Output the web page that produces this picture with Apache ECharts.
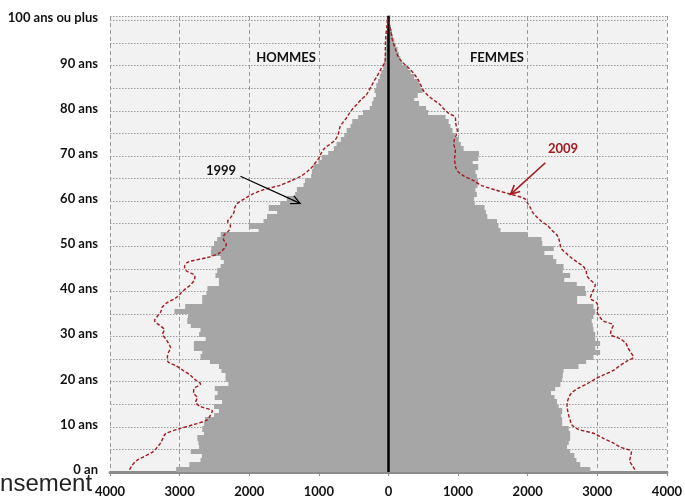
<!DOCTYPE html>
<html><head><meta charset="utf-8">
<script src="https://cdn.jsdelivr.net/npm/echarts@6/dist/echarts.min.js"></script>
<style>html,body{margin:0;padding:0;background:#fff}#c{width:685px;height:498px}</style>
</head><body><div id="c"></div>
<script>
// Ages 0..100 (100 = "100 ans ou plus")
const ages = Array.from({length: 101}, (_, i) => String(i));
const tickLabels = ['0 an','10 ans','20 ans','30 ans','40 ans','50 ans','60 ans','70 ans','80 ans','90 ans','100 ans ou plus'];
const xTicks = [-4000,-3000,-2000,-1000,0,1000,2000,3000,4000];

// 1999 (bars), age 0 first
const hommes1999 = [3050,2860,2700,2680,2840,2720,2730,2745,2650,2675,
 2650,2635,2505,2435,2505,2390,2495,2455,2495,2300,
 2340,2340,2400,2435,2565,2700,2675,2795,2795,2625,
 2720,2700,2840,2890,2880,3075,2920,2675,2675,2615,
 2600,2435,2435,2485,2460,2410,2365,2410,2550,2545,
 2505,2460,2410,1865,2005,1795,1745,1600,1720,1555,
 1460,1340,1315,1220,1200,1110,1100,1080,1005,960,
 865,785,745,685,635,600,545,520,435,365,
 270,235,215,180,200,175,150,125,105,75,
 65,55,45,40,35,30,25,20,15,12,15];
const femmes1999 = [2900,2755,2700,2670,2610,2565,2590,2610,2610,2590,
 2495,2495,2480,2495,2445,2420,2385,2335,2395,2470,
 2495,2505,2515,2730,2840,2945,3040,2970,3040,2970,
 2970,2945,2935,2920,2945,2970,2945,2710,2710,2840,
 2825,2705,2525,2610,2505,2515,2410,2365,2240,2375,
 2210,2200,2000,1610,1580,1560,1420,1400,1380,1240,
 1230,1270,1250,1280,1290,1270,1250,1290,1210,1290,
 1300,1080,1040,1010,955,920,890,865,820,570,
 540,440,370,420,490,460,430,370,320,280,
 200,170,150,130,105,85,65,50,35,20,25];
// 2009 (dashed lines)
const hommes2009 = [3720,3680,3620,3500,3380,3320,3270,3240,3200,3020,
 2800,2610,2560,2530,2700,2770,2745,2800,2790,2700,
 2780,2850,2950,3050,3170,3175,3160,3130,3160,3200,
 3245,3220,3290,3360,3320,3270,3250,3180,3060,2990,
 2920,2840,2790,2780,2900,2930,2880,2600,2430,2360,
 2330,2370,2360,2290,2270,2310,2260,2220,2210,2170,
 2070,1960,1800,1560,1400,1260,1170,1100,1050,1000,
 970,930,850,770,730,710,695,650,600,560,
 510,450,390,320,280,245,210,170,135,100,
 60,45,45,45,45,42,38,32,25,18,15];
const femmes2009 = [3540,3500,3465,3480,3490,3330,3220,3080,2960,2720,
 2630,2610,2590,2575,2565,2570,2590,2630,2720,2850,
 2960,3090,3230,3320,3420,3520,3480,3440,3410,3330,
 3190,3200,3230,3080,3030,2995,3010,2990,2900,2920,
 2950,2970,2900,2850,2840,2800,2710,2620,2550,2480,
 2465,2450,2420,2350,2290,2200,2130,2070,2040,2000,
 1960,1760,1530,1330,1230,1090,1000,965,955,950,
 960,960,940,945,970,990,975,965,960,860,
 790,730,640,560,500,470,440,400,350,290,
 220,160,125,105,80,60,45,35,20,12,10];

const FONT = 'Lato';
const RED = '#a31a1f';
const GREY = '#a6a6a6';

// bars drawn as full-height rectangles per age band (no gaps)
const barRender = (params, api) => {
  const v = api.value(1);
  const idx = api.value(0);
  const p0 = api.coord([0, idx]);
  const p1 = api.coord([v, idx]);
  const h = api.size([0, 1])[1];
  const y = Math.floor(p0[1] - h / 2);
  const y2 = Math.ceil(p0[1] + h / 2);
  const xa = Math.min(p0[0], p1[0]), xb = Math.max(p0[0], p1[0]);
  return {type: 'rect', shape: {x: xa, y: y, width: xb - xa, height: y2 - y}, style: {fill: GREY}};
};

const chart = echarts.init(document.getElementById('c'), null, {renderer: 'canvas'});
chart.setOption({
  animation: false,
  backgroundColor: '#ffffff',
  grid: {left: 110, right: 15, top: 16, bottom: 26, show: true, backgroundColor: '#f2f2f2', borderWidth: 0},
  xAxis: {
    type: 'value', min: xTicks[0], max: xTicks[xTicks.length-1], interval: 1000,
    axisLine: {show: true, onZero: false, lineStyle: {color: '#8c8c8c', width: 3}},
    axisTick: {show: true, length: 4, lineStyle: {color: '#8c8c8c'}},
    axisLabel: {margin: 13, color: '#111', fontFamily: FONT, fontWeight: 'bold', fontSize: 13,
      formatter: v => String(Math.abs(v))},
    splitLine: {show: true, lineStyle: {color: '#9a9a9a', type: [4, 3], width: 1}}
  },
  yAxis: {
    type: 'category', data: ages, boundaryGap: true,
    axisLine: {show: false}, axisTick: {show: false},
    axisLabel: {interval: (i) => i % 10 === 0, margin: 12, color: '#111', fontFamily: FONT, fontWeight: 'bold', fontSize: 13,
      formatter: (v) => tickLabels[Math.round(Number(v) / 10)]},
    splitLine: {show: true, interval: (i) => i % 5 === 0, lineStyle: {color: '#9a9a9a', type: [1.5, 1.5], width: 1}}
  },
  series: [
    {name: 'Hommes 1999', type: 'custom', renderItem: barRender, silent: true, z: 2,
      encode: {x: 1, y: 0},
      data: hommes1999.map((v, i) => [i, -v])},
    {name: 'Femmes 1999', type: 'custom', renderItem: barRender, silent: true, z: 2,
      encode: {x: 1, y: 0},
      data: femmes1999.map((v, i) => [i, v])},
    {name: 'Hommes 2009', type: 'line', data: hommes2009.map(v => -v), symbol: 'none', smooth: 0.3,
      lineStyle: {color: RED, width: 1.4, type: [3.5, 2]}, silent: true, z: 5},
    {name: 'Femmes 2009', type: 'line', data: femmes2009, symbol: 'none', smooth: 0.3,
      lineStyle: {color: RED, width: 1.4, type: [3.5, 2]}, silent: true, z: 5,
      markLine: {silent: true, symbol: ['none', 'none'], label: {show: false},
        lineStyle: {color: '#000', width: 2.5, type: 'solid'},
        data: [{xAxis: 0}]}
    }
  ]
});

// Annotations (arrows) placed in data space
const arrows = [
  {from: [-2126, '65'], to: [-1269, '59'], color: '#000', width: 1.2},
  {from: [2254, '68'], to: [1754, '61'], color: RED, width: 1.6}
];
const g = [];
arrows.forEach(a => {
  const p1 = chart.convertToPixel({gridIndex: 0}, a.from);
  const p2 = chart.convertToPixel({gridIndex: 0}, a.to);
  g.push({type: 'line', shape: {x1: p1[0], y1: p1[1], x2: p2[0], y2: p2[1]}, style: {stroke: a.color, lineWidth: a.width}, z: 100});
  const ang = Math.atan2(p2[1]-p1[1], p2[0]-p1[0]);
  const L = 10, W = 0.45;
  const h1 = [p2[0] - L*Math.cos(ang - W), p2[1] - L*Math.sin(ang - W)];
  const h2 = [p2[0] - L*Math.cos(ang + W), p2[1] - L*Math.sin(ang + W)];
  g.push({type: 'polyline', shape: {points: [h1, [p2[0], p2[1]], h2]}, style: {stroke: a.color, lineWidth: a.width, fill: null}, z: 100});
});
const txt = (t, x, y, color, size, weight) => ({type: 'text', x: x, y: y, z: 101,
  style: {text: t, fill: color, font: (weight || 'bold') + ' ' + size + 'px ' + FONT, textAlign: 'center', textVerticalAlign: 'middle'}});
g.push(txt('HOMMES', 286, 58, '#111', 13));
g.push(txt('FEMMES', 497, 58, '#111', 13));
g.push(txt('1999', 221, 171, '#111', 13));
g.push(txt('2009', 563, 149, RED, 13));
g.push({type: 'text', x: -56, y: 484, z: 101,
  style: {text: 'Recensement', fill: '#222', font: 'normal 24px "Liberation Sans"', textAlign: 'left', textVerticalAlign: 'middle'}});
chart.setOption({graphic: g});
</script>
</body></html>
